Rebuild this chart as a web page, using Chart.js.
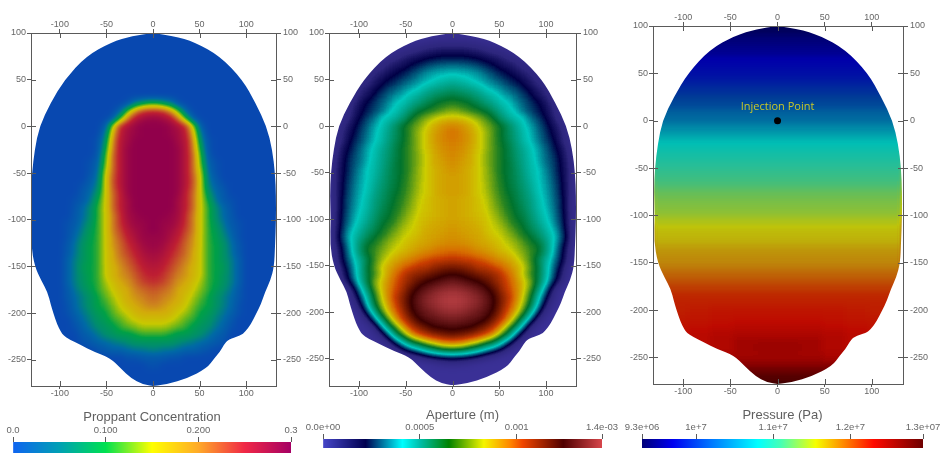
<!DOCTYPE html>
<html>
<head>
<meta charset="utf-8">
<script src="https://cdn.jsdelivr.net/npm/chart.js@4"></script>
<style>
html,body{margin:0;background:#fff;width:941px;height:453px;overflow:hidden}
canvas{position:absolute;filter:blur(.45px)}
</style>
</head>
<body>
<script>
const xTicks=[-100,-50,0,50,100];
const yTicks=[100,50,0,-50,-100,-150,-200,-250];

// fracture outline
const outlineY=[100,97,90,75,50,25,0,-25,-50,-75,-100,-127,-150,-165,-178,-190,-200,-212,-220,-224,-228,-234,-241,-248,-259,-270,-276,-278];
const outlineL=[0,-22,-45,-72,-95,-110,-122,-127,-130,-131,-130,-131,-127,-120,-113,-110,-107,-103,-99,-96,-90,-78,-64,-46,-35,-23,-12,0];
const outlineR=[0,22,45,72,96,110,122,128,131,132,132,131,130,126,120,116,111,105,99,94,81,76,72,66,58,36,16,0];

// cell centres, plots are symmetric so columns are distance from x=0
const colX=[4,12,20,28,36,44,52,60,68,76,84,92,100,108,116,124,132,140,148];
const rowY=[112,104,96,88,80,72,64,56,48,40,32,24,16,8,0,-8,-16,-24,-32,-40,-48,-56,-64,-72,-80,-88,-96,-104,-112,-120,-128,-136,-144,-152,-160,-168,-176,-184,-192,-200,-208,-216,-224,-232,-240,-248,-256,-264,-272,-280,-288,-296];

// proppant concentration x100, a short row holds its last value out to the edge
const proppant=[[0],[0],[0],[0],[0],[0],[0],[0],[0],[0],[0],
[11,9,6,1,0],[24,23,19,12,3,0],[29,28,26,20,11,2,0],[30,30,29,27,24,14,2,0],
[30,30,29,28,25,17,5,0],[30,30,30,28,26,19,7,1,0],[30,30,30,29,26,20,9,1,0],[30,30,30,29,26,21,11,2,0],
[30,30,30,29,26,21,12,3,1,0],[30,30,30,29,26,21,14,4,1,0],[30,30,30,29,26,22,15,5,2,0],[30,30,30,29,26,22,15,6,3,1,0],
[30,30,30,29,25,21,15,8,4,2,0],[30,30,30,28,25,21,15,10,5,2,1,0],[30,30,30,28,25,21,15,11,7,4,1.5,0],[30,30,29,28,24,20,15,11,7,4,2,0],
[30,29,29,27,24,20,15,11,8,5,2,1,0],[30,29,28,26,23,20,15,11,9,6,3,1,0],[29,29,27,25,22,19,15,11,9.5,7,4,1,0],[29,28,26,24,21,19,15,11,10,8,5,2,0],
[28,27,25,23,21,18,15,11,10,8,5,2,0],[27,26,24,22,20,18,15,11,10,8,6,3,0],[26,25,23,21,19,17,15,11,10,9,6,3,0],[25,24,22,20,19,17,15,11,10,8,6,3,0],
[24,23,21,19,18,16,14,11,10,8,6,3,0],[22,21,20,18,17,15,13,11,9,7,5,2,0],[21,20,19,18,16,14,12,10,8,6,4,2,0],[20,19,18,17,15,13,11,10,8,6,4,1,0],
[18,18,17,15,14,12,10,9,7,5,3,1,0],[16,16,15,14,12,11,9,8,6,4,2,0],[14,14,13,12,11,9,8,7,5,3,1,0],[11,11,10,9,9,8,7,5,3,2,0],
[8,8,8,7,6,5,4,3,2,1,0],[6,5,5,4,3,3,2,1,0],[2,2,1,1,0],[1,0],[0],[0],[0],[0],[0]];

// aperture in 1e-5 m
const aperture=[[2],[2],[4,3,2,1],[11,11,10,9,7,5,3,1],[18,18,17,16,14,12,10,7,4,2],[24,24,23,22,20,18,16,13,10,7,4,1],
[33,32,31,29,26,23,20,18,15,12,9,6,3,1],[40,39,38,36,32,28,25,22,19,16,13,10,7,4,1],[47,45,42,39,36,33,30,26,23,20,16,12,8,4,1],
[54,52,50,47,42,38,35,31,28,24,20,16,12,7,2],[62,60,57,53,49,45,40,36,32,28,23,18,14,9,3],[69,67,65,60,55,50,45,41,36,31,27,23,18,12,5],
[76,73,70,67,64,57,50,44,39,33,28,24,20,14,6],[86,85,82,78,72,66,56,49,44,41,33,28,22,16,9,3],[94,91,88,83,77,72,66,58,50,43,37,31,25,19,13,5],
[96,93,90,85,80,72,66,59,52,45,39,33,27,21,15,8,1],[95,93,90,85,79,73,66,60,53,46,40,34,28,23,16,9,1],[94,92,89,85,79,73,67,62,55,49,43,37,31,25,19,12,3],
[93,91,88,84,78,73,67,62,56,50,44,38,32,27,21,13,4],[92,90,88,84,78,73,67,63,57,51,45,39,33,28,22,14,5],[91,89,87,84,79,73,67,63,58,52,46,41,35,29,22,15,5],
[90,89,87,84,79,74,68,63,59,53,47,41,36,30,23,15,5],[90,89,87,84,80,74,69,64,60,54,49,42,37,31,24,15,5],[90,89,87,84,81,75,70,65,61,56,50,43,38,32,25,15,5],
[89,88,87,85,82,77,71,67,62,57,52,45,39,33,26,15,4],[89,88,87,85,83,78,73,68,64,59,53,46,40,34,26,15,4],[89,88,87,86,84,80,75,70,65,61,55,48,42,35,27,16,4],
[90,89,88,87,85,82,78,73,67,64,57,50,44,36,28,16,4],[91,90,89,88,86,83,81,76,71,66,60,54,47,40,30,17,4],[92,91,90,89,87,85,83,79,75,70,65,59,51,43,32,18,4],
[94,93,92,90,89,87,85,82,79,74,69,65,55,42,28,15,3],[98,97,96,94,92,90,87,85,81,77,71,66,55,40,26,13,2],
[105,104,103,101,98,95,92,89,85,79,71,60,49,36,25,12,2],[115,114,111,107,106,102,99,94,89,84,73,63,47,33,21,7,0],[124,122,119,116,113,111,105,99,91,82,71,62,47,31,17,5,0],
[132,130,127,125,120,114,108,101,94,86,76,61,44,26,13,3,0],[139,138,135,131,127,120,111,103,95,86,73,54,34,14,3,0],[143,142,139,136,131,125,115,106,96,83,67,46,25,9,1,0],
[143,142,139,136,131,125,115,104,93,79,63,39,17,5,0],[139,138,135,132,128,123,111,100,88,72,50,26,9,1,0],[133,132,130,128,125,116,106,93,76,56,32,12,3,0],
[127,126,125,120,114,107,93,77,60,35,12,3,0],[118,116,113,108,102,92,77,60,35,14,4,1,0],[99,96,90,84,74,65,49,31,14,4,1,0],[70,67,60,52,42,33,22,10,3,1,0],
[28,26,23,18,12,7,3,1,0],[6,5,3,1,0],[0],[0],[0],[0],[0]];

// pressure in 1e5 Pa, only six blocks across since it barely changes along a row
const pressure=[[93],[93],[93],[94],[94.5],[95],[96],[96.5],[97],[98],[99],[100],[101],[103],[104],[105],[106],[107],[108],[109],[110],[110.5],[111],[112],[113],[113.5],[114],[115],[116],[116.5],[117],[118],[118.5],[119],[120],[121],[122],[123],[123.5],
[124.25,124.25,124.25,124,123.75,123.5],[124.75,124.75,124.5,124.25,124,123.75],[125.25,125.25,125,124.75,124.5,124.25],[125.75,125.75,125.5,125.25,124.75,124.5],[126.25,126.25,125.75,125.25,125,124.75],[126.5,126.25,125.75,125.25,125],[126.25,126.25,126,125.75],[126.75,126.75,126.5],[128],[129],[129.4],[129.4],[129.4]];

// colour stops: plot colours are shaded darker than the bars
const proppantStops=[0,4,7,10,13,15,18,20,25,30];
const proppantField=['#0848b0','#0069a5','#008c6e','#00a046','#78b914','#c8c800','#d2aa0a','#cd821e','#be1e32','#91004b'];
const proppantBarStops=[0,5,10,15,20,25,30];
const proppantBar=['#0f64f0','#00a0b4','#00e150','#ffff00','#ffaa28','#f02846','#a50064'];
const proppantTicks=[0,10,20,30];
const proppantLabels=['0.0','0.100','0.200','0.3'];

const apertureStops=[0,13,22,41,50,58,65,70,83,97,103,124,144];
const apertureField=['#3a3096','#2d267d','#000046','#00c8be','#00a58c','#008c5a','#00732d','#2a8520','#cdcd00','#d76e00','#c83c00','#3c0000','#b43c41'];
const apertureBarStops=[0,22,41,50,65,83,97,103,124,144];
const apertureBar=['#4646c8','#000050','#00ffff','#00beaa','#008200','#f5f500','#ff8200','#f04600','#500000','#d7464b'];
const apertureTicks=[0,50,100,144];
const apertureLabels=['0.0e+00','0.0005','0.001','1.4e-03'];

const pressureStops=[93,96,100,104,107,110,113,116,119,123,125,126,127,129.4];
const pressureField=['#000055','#0000aa','#003c96','#006ea0','#00beb4','#28be96','#6ebe50','#bec30a','#be820a','#be2800','#be0a00','#aa0500','#870000','#460000'];
const pressureBarStops=[93,97,102,108,111,115.5,119,123,129.4];
const pressureBar=['#000078','#0000f0','#0078ff','#00ffff','#46ffb4','#f5ff00','#ff8c00','#ff0a00','#6e0000'];
const pressureTicks=[93,100,110,120,129.4];
const pressureLabels=['9.3e+06','1e+7','1.1e+7','1.2e+7','1.3e+07'];

const GREY='#666',LINE='#5a5a5a';
const tickFont={family:'"Liberation Sans"',size:9};

const hexRgb=h=>[1,3,5].map(i=>parseInt(h.slice(i,i+2),16));
const lookup=(stops,cols,v)=>{
  let i=0; while(i<stops.length-2&&v>stops[i+1])i++;
  const t=Math.min(1,Math.max(0,(v-stops[i])/(stops[i+1]-stops[i])));
  const a=hexRgb(cols[i]),b=hexRgb(cols[i+1]);
  return a.map((c,k)=>Math.round(c+(b[k]-c)*t));
};

// cells are drawn as grey levels of the value, colours go on after smoothing
const cellsFrom=(rows,stops,cols,span=1)=>{
  const pts=[],colors=[],lo=stops[0],hi=stops[stops.length-1];
  rows.forEach((row,r)=>colX.forEach((x,c)=>{
    const k=Math.floor(c/span), v=row[Math.min(k,row.length-1)], g=Math.round((v-lo)/(hi-lo)*255);
    [x,-x].forEach(sx=>{pts.push({x:sx,y:rowY[r]});colors.push('rgb('+g+','+g+','+g+')')});
  }));
  const lut=Array.from({length:256},(_,i)=>lookup(stops,cols,lo+(hi-lo)*i/255));
  return {pts,colors,lut};
};

const makeCanvas=(l,t,w,h)=>{
  const c=document.createElement('canvas');
  c.width=w;c.height=h;c.style.left=l+'px';c.style.top=t+'px';c.style.width=w+'px';c.style.height=h+'px';
  document.body.appendChild(c);return c;
};

const outlinePath=(c,x,y)=>{
  const px=[],n=outlineY.length;
  for(let i=0;i<n;i++)px.push([x.getPixelForValue(outlineR[i]),y.getPixelForValue(outlineY[i])]);
  for(let i=n-1;i>=0;i--)px.push([x.getPixelForValue(outlineL[i]),y.getPixelForValue(outlineY[i])]);
  c.beginPath();c.moveTo(px[0][0],px[0][1]);
  for(let i=1;i<px.length-1;i++)c.quadraticCurveTo(px[i][0],px[i][1],(px[i][0]+px[i+1][0])/2,(px[i][1]+px[i+1][1])/2);
  c.closePath();
};

// once the cells are down: smooth the grey levels, colour them, keep what is inside the outline
const heatPlugin={id:'heat',
  afterDatasetDraw(chart,args){
    const ds=chart.data.datasets[args.index];
    if(!ds.lut)return;
    const c=chart.ctx,cv=chart.canvas,tmp=document.createElement('canvas');
    tmp.width=cv.width;tmp.height=cv.height;
    const t=tmp.getContext('2d');
    t.filter='blur(3.5px)';t.drawImage(cv,0,0);t.filter='none';
    const img=t.getImageData(0,0,tmp.width,tmp.height),d=img.data;
    for(let i=0;i<d.length;i+=4){
      const col=ds.lut[d[i+3]?Math.min(255,Math.round(d[i]*255/d[i+3])):0];
      d[i]=col[0];d[i+1]=col[1];d[i+2]=col[2];d[i+3]=255;
    }
    t.putImageData(img,0,0);
    c.save();c.clearRect(0,0,cv.width,cv.height);
    outlinePath(c,chart.scales.x,chart.scales.y);c.clip();
    c.drawImage(tmp,0,0);c.restore();
  },
  // tick marks cross the frame, library only draws the outer half
  afterDraw(chart){
    const c=chart.ctx,a=chart.chartArea,s=chart.scales;
    c.save();c.strokeStyle=LINE;c.lineWidth=1;c.beginPath();
    xTicks.forEach(v=>{const p=Math.round(s.x.getPixelForValue(v))+.5;c.moveTo(p,a.top);c.lineTo(p,a.top+5);c.moveTo(p,a.bottom);c.lineTo(p,a.bottom-5)});
    yTicks.forEach(v=>{const p=Math.round(s.y.getPixelForValue(v))+.5;c.moveTo(a.left,p);c.lineTo(a.left+5,p);c.moveTo(a.right,p);c.lineTo(a.right-5,p)});
    c.stroke();c.restore();
    const n=chart.options.plugins.heat.note;
    if(n){c.save();c.font='11px "Open Sans"';c.fillStyle='#c8c828';c.textAlign='center';c.textBaseline='middle';
      c.fillText(n,s.x.getPixelForValue(0),s.y.getPixelForValue(15));c.restore();}
  }
};

const axis=(pos,min,max,ticks,size)=>({
  type:'linear',position:pos,min,max,
  afterBuildTicks:s=>{s.ticks=ticks.map(value=>({value}))},
  afterFit:s=>{if(pos==='left'||pos==='right')s.width=size;else s.height=size},
  border:{color:LINE,z:1},
  grid:{drawOnChartArea:false,tickLength:pos==='bottom'?3:pos==='right'?5:4,tickColor:LINE,z:1},
  ticks:{color:GREY,font:tickFont,padding:pos==='right'?2:pos==='left'?1:-1,autoSkip:false,maxRotation:0,z:1,callback:v=>String(v)}
});

// frame is given in page pixels so the three plots can be lined up with the original
const plotPanel=(g,cells,extra,note)=>{
  const m=36,cv=makeCanvas(g.left-m,g.top-m,g.right-g.left+2*m,g.bottom-g.top+2*m);
  new Chart(cv,{type:'scatter',plugins:[heatPlugin],
    data:{datasets:[...extra,{lut:cells.lut,clip:false,data:cells.pts,pointStyle:'rect',pointRadius:g.cell,pointBorderWidth:0,pointBackgroundColor:cells.colors,showLine:false}]},
    options:{responsive:false,animation:false,devicePixelRatio:1,layout:{padding:0},
      plugins:{legend:{display:false},tooltip:{enabled:false},heat:{note}},
      scales:{
        x:axis('bottom',g.xMin,g.xMax,xTicks,m),x2:axis('top',g.xMin,g.xMax,xTicks,m),
        y:axis('left',g.yMin,100,yTicks,m),y2:axis('right',g.yMin,100,yTicks,m)
      }}});
};

const colorBar=(g,title,min,max,stops,cols,ticks,labels)=>{
  const m=32,cv=makeCanvas(g.left-m,g.titleY-8,g.right-g.left+2*m,g.bottom-g.titleY+8);
  new Chart(cv,{type:'bar',
    data:{labels:['bar'],datasets:[{data:[[min,max]],barPercentage:1,categoryPercentage:1,
      backgroundColor:c=>{
        const a=c.chart.chartArea; if(!a)return '#fff';
        const gr=c.chart.ctx.createLinearGradient(a.left,0,a.right,0);
        stops.forEach((s,i)=>gr.addColorStop((s-min)/(max-min),cols[i]));
        return gr;
      }}]},
    options:{indexAxis:'y',responsive:false,animation:false,devicePixelRatio:1,layout:{padding:{left:m,right:m}},
      plugins:{legend:{display:false},tooltip:{enabled:false}},
      scales:{
        y:{display:false},
        x:{type:'linear',position:'top',min,max,
          afterBuildTicks:s=>{s.ticks=ticks.map(value=>({value}))},
          afterFit:s=>{s.height=g.top-g.titleY+8},
          border:{display:false},
          grid:{drawOnChartArea:false,tickLength:5,tickColor:LINE},
          title:{display:true,text:title,color:'#5f5f5f',font:{family:'"Liberation Sans"',size:13},padding:{top:2,bottom:0}},
          ticks:{color:GREY,font:{family:'"Liberation Sans"',size:9.5},padding:1,autoSkip:false,maxRotation:0,callback:(v,i)=>labels[i]}
        }}}});
};

plotPanel({left:31,right:276,top:33,bottom:386,xMin:-131,xMax:132,yMin:-278,cell:6},cellsFrom(proppant,proppantStops,proppantField),[]);
plotPanel({left:329,right:576,top:33,bottom:386,xMin:-132,xMax:132,yMin:-279,cell:6},cellsFrom(aperture,apertureStops,apertureField),[]);
plotPanel({left:653,right:903,top:26,bottom:384,xMin:-132,xMax:133,yMin:-278,cell:6},cellsFrom(pressure,pressureStops,pressureField,3),
  [{data:[{x:0,y:0}],pointRadius:3.5,pointBackgroundColor:'#000',pointBorderWidth:0,showLine:false}],'Injection Point');

colorBar({left:13,right:291,top:442,bottom:453,titleY:416},'Proppant Concentration',0,30,proppantBarStops,proppantBar,proppantTicks,proppantLabels);
colorBar({left:323,right:602,top:439,bottom:448,titleY:414},'Aperture (m)',0,144,apertureBarStops,apertureBar,apertureTicks,apertureLabels);
colorBar({left:642,right:923,top:439,bottom:448,titleY:414},'Pressure (Pa)',93,129.4,pressureBarStops,pressureBar,pressureTicks,pressureLabels);
</script>
</body>
</html>
